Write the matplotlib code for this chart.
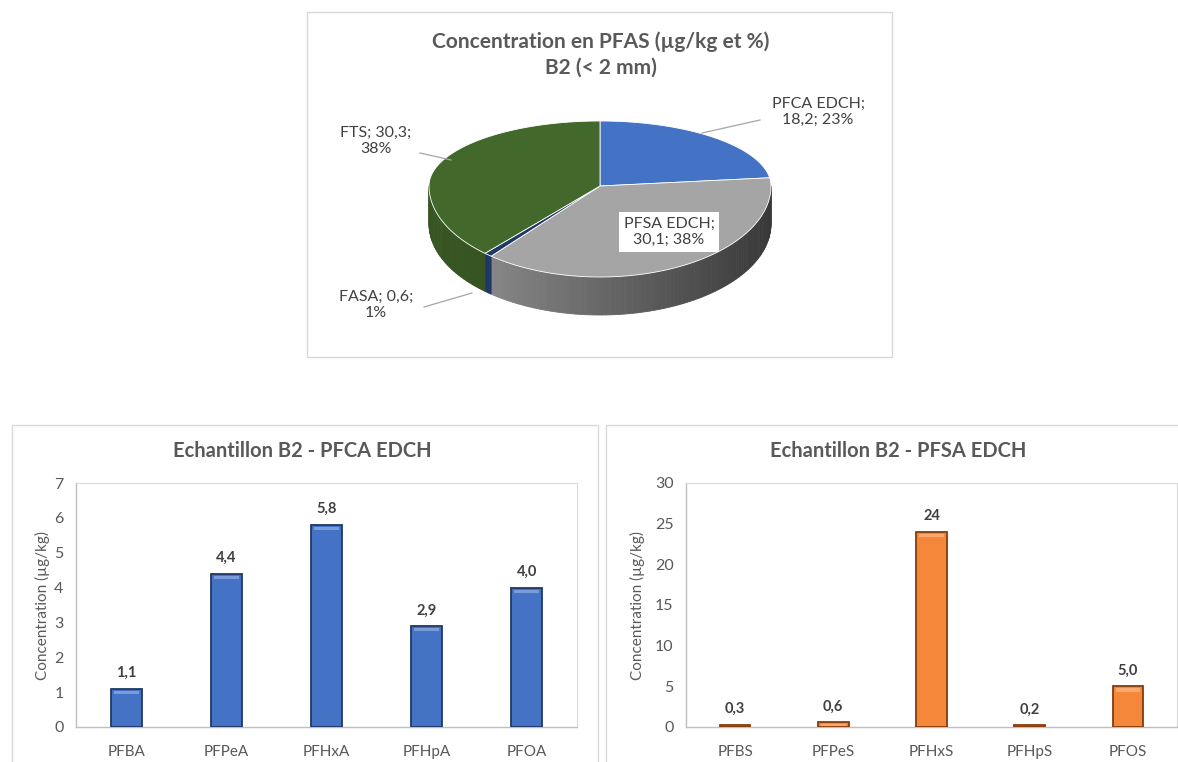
import numpy as np
import matplotlib
matplotlib.use("Agg")
import matplotlib.pyplot as plt
from matplotlib.patches import Polygon, Rectangle
from matplotlib.colors import to_rgb

# ---------------- data ----------------
pie_labels = ["PFCA EDCH", "PFSA EDCH", "FASA", "FTS"]
pie_values = [18.2, 30.1, 0.6, 30.3]

pfca_cats = ["PFBA", "PFPeA", "PFHxA", "PFHpA", "PFOA"]
pfca_vals = [1.1, 4.4, 5.8, 2.9, 4.0]
pfca_ticks = [0, 1, 2, 3, 4, 5, 6, 7]

pfsa_cats = ["PFBS", "PFPeS", "PFHxS", "PFHpS", "PFOS"]
pfsa_vals = [0.3, 0.6, 24, 0.2, 5.0]
pfsa_ticks = [0, 5, 10, 15, 20, 25, 30]

W, H = 1178, 762
plt.rcParams['font.family'] = ['Lato', 'DejaVu Sans']
fig = plt.figure(figsize=(W / 100, H / 100), dpi=100)
fig.patch.set_facecolor("white")

def rect(x0, y0, x1, y1):
    return [x0 / W, 1 - y1 / H, (x1 - x0) / W, (y1 - y0) / H]

TXT = "#595959"
DARK = "#404040"

# background canvas for panel borders
bg = fig.add_axes([0, 0, 1, 1])
bg.set_xlim(0, W); bg.set_ylim(H, 0); bg.axis("off")
for (x0, y0, x1, y1) in [(307, 12, 892, 357), (12, 425, 598, 770), (606, 425, 1185, 770)]:
    bg.add_patch(Rectangle((x0, y0), x1 - x0, y1 - y0, fill=False, ec="#D9D9D9", lw=1.0))

# ---------------- pie ----------------
pa = fig.add_axes([0, 0, 1, 1])
pa.set_xlim(0, W); pa.set_ylim(H, 0); pa.axis("off")
pa.text(601, 42, "Concentration en PFAS (µg/kg et %)", ha="center", va="center",
        fontsize=15, fontweight="bold", color=TXT)
pa.text(601, 68, "B2 (< 2 mm)", ha="center", va="center",
        fontsize=15, fontweight="bold", color=TXT)

cx, cy, rx, ry_top, ry_bot, depth = 600, 186, 171, 65, 91, 38

def pt(t_deg):
    t = np.radians(t_deg)
    s = np.sin(t)
    ry = ry_top if s > 0 else ry_bot
    return cx + rx * np.cos(t), cy - ry * s

total = sum(pie_values)
fracs = [v / total for v in pie_values]
top_cols = ["#4472C4", "#A5A5A5", "#1F3864", "#43682B"]
side_cols = [("#2F5597", "#2F5597"), ("#979797", "#393939"), ("#1F3864", "#1F3864"), ("#375623", "#2E4A1D")]
angles = []
a = 90.0
for f in fracs:
    angles.append((a, a - 360 * f))
    a -= 360 * f

# sides (front half only)
for (a0, a1), (c_l, c_r) in zip(angles, side_cols):
    lo, hi = min(a0, a1), max(a0, a1)
    for shift in (0, -360, 360):
        l, h = lo + shift, hi + shift
        l2, h2 = max(l, -180), min(h, 0)
        if h2 <= l2:
            continue
        ts = np.linspace(l2, h2, max(2, int((h2 - l2) / 1.5) + 2))
        cl, cr = np.array(to_rgb(c_l)), np.array(to_rgb(c_r))
        for i in range(len(ts) - 1):
            p0, p1 = pt(ts[i]), pt(ts[i + 1])
            xm = (p0[0] + p1[0]) / 2
            w = np.clip((xm - (cx - rx)) / (2 * rx), 0, 1)
            col = cl * (1 - w) + cr * w
            poly = [p0, p1, (p1[0], p1[1] + depth), (p0[0], p0[1] + depth)]
            pa.add_patch(Polygon(poly, closed=True, fc=col, ec=col, lw=0.6))

# top faces
for (a0, a1), col in zip(angles, top_cols):
    ts = np.linspace(a0, a1, 200)
    pts = [(cx, cy)] + [pt(t) for t in ts]
    pa.add_patch(Polygon(pts, closed=True, fc=col, ec="white", lw=0.6))

# labels
lab_txt = [f"{n}; {str(v).replace('.', ',')}; {round(f * 100):d}%" for n, v, f in zip(pie_labels, pie_values, fracs)]
lc = "#A6A6A6"
fs = 11.5
pa.text(818, 112, "PFCA EDCH;\n" + lab_txt[0].split("; ", 1)[1], ha="center", va="center",
        fontsize=fs, color=DARK, linespacing=1.2)
pa.plot([702, 760], [133, 120], color=lc, lw=0.9)
pa.text(669, 232, "PFSA EDCH;\n" + lab_txt[1].split("; ", 1)[1], ha="center", va="center",
        fontsize=fs, color=DARK, linespacing=1.2,
        bbox=dict(boxstyle="square,pad=0.3", fc="white", ec="none"))
fl = lab_txt[2].split("; ")
pa.text(376, 305, f"{fl[0]}; {fl[1]};\n{fl[2]}", ha="center", va="center",
        fontsize=fs, color=DARK, linespacing=1.2)
pa.plot([424, 472], [307, 293], color=lc, lw=0.9)
tl = lab_txt[3].split("; ")
pa.text(376, 141, f"{tl[0]}; {tl[1]};\n{tl[2]}", ha="center", va="center",
        fontsize=fs, color=DARK, linespacing=1.2)
pa.plot([420, 451], [153, 160], color=lc, lw=0.9)

# ---------------- bars ----------------
def bar_panel(box, title, title_xy, cats, vals, ticks, face, edge, hl, fmt, ylab_x):
    ax = fig.add_axes(rect(*box))
    x = np.arange(len(cats))
    ymax = ticks[-1]
    ax.bar(x, vals, width=0.31, color=face, edgecolor=edge, linewidth=1.3, zorder=3)
    hh = ymax * 0.014
    hs = [min(hh, v * 0.4) for v in vals]
    ax.bar(x, hs, bottom=[v - h - ymax * 0.008 for v, h in zip(vals, hs)], width=0.25,
           color=hl, linewidth=0, zorder=4)
    for xi, v in zip(x, vals):
        ax.text(xi, v + ymax * 0.035, fmt(v), ha="center", va="bottom", fontsize=10.5,
                fontweight="bold", color=DARK)
    ax.set_xlim(-0.5, len(cats) - 0.5)
    ax.set_ylim(0, ymax)
    ax.set_yticks(ticks)
    ax.set_xticks(x)
    ax.set_xticklabels(cats)
    ax.tick_params(axis="y", length=0, pad=9, labelsize=11.5, labelcolor=TXT)
    ax.tick_params(axis="x", length=0, pad=13, labelsize=11, labelcolor=TXT)
    for s in ("top", "right"):
        ax.spines[s].set_color("#D9D9D9"); ax.spines[s].set_linewidth(0.8)
    for s in ("left", "bottom"):
        ax.spines[s].set_color("#BFBFBF"); ax.spines[s].set_linewidth(1.0)
    fig.text(title_xy[0] / W, 1 - title_xy[1] / H, title, ha="center", va="center",
             fontsize=14.5, fontweight="bold", color=TXT)
    fig.text(ylab_x / W, 1 - 605 / H, "Concentration (µg/kg)", rotation=90, ha="center",
             va="center", fontsize=11, color=TXT)
    return ax

fmt1 = lambda v: f"{v:.1f}".replace(".", ",")
fmt2 = lambda v: (f"{v:.0f}" if v >= 10 else f"{v:.1f}".replace(".", ","))
bar_panel((76, 483, 577, 727), "Echantillon B2 - PFCA EDCH", (302, 451), pfca_cats, pfca_vals,
          pfca_ticks, "#4472C4", "#203864", "#7A9CDB", fmt1, 42)
bar_panel((686, 483, 1177, 727), "Echantillon B2 - PFSA EDCH", (898, 451), pfsa_cats, pfsa_vals,
          pfsa_ticks, "#F4873A", "#843C0C", "#F7A96F", fmt2, 637)

fig.savefig("out.png", dpi=100, facecolor="white")
